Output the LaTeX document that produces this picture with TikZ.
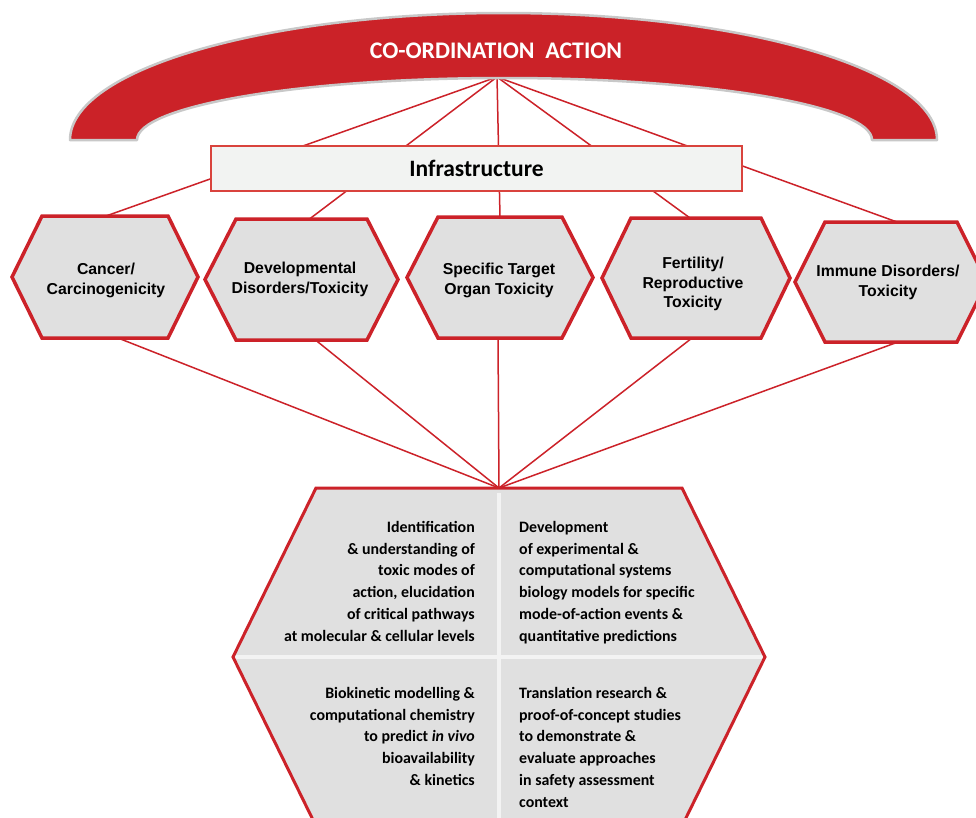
\documentclass[tikz,border=0pt]{standalone}
\usepackage{fontspec}
\setmainfont{Carlito}
\newfontfamily\hexfont{Liberation Sans}
\usetikzlibrary{calc}
\definecolor{archred}{HTML}{CB2228}
\definecolor{linered}{HTML}{CC2229}
\definecolor{hexred}{HTML}{CC2229}
\definecolor{hexfill}{HTML}{E0E0E0}
\definecolor{boxfill}{HTML}{F2F3F2}
\definecolor{boxline}{HTML}{D9433D}
\definecolor{archedge}{HTML}{C8C8C8}
\definecolor{divcol}{HTML}{F3F3F3}
\newcommand\hexdraw[3][hexline]{%
  \path[#1] ($(#2.north west)+(#3,0)$) -- ($(#2.north east)+(-#3,0)$) -- (#2.east)
    -- ($(#2.south east)+(-#3,0)$) -- ($(#2.south west)+(#3,0)$) -- (#2.west) -- cycle;}
\begin{document}
\begin{tikzpicture}[x=1pt,y=-1pt,
  conn/.style={draw=linered, line width=1.5pt},
  hexbox/.style={shape=rectangle, inner sep=0pt, outer sep=0pt},
  hexline/.style={fill=hexfill, draw=hexred, line width=3.5pt, line join=miter},
  hexlabel/.style={align=center, inner sep=0pt, font=\hexfont\bfseries\fontsize{15.8}{20}\selectfont},
  quad/.style={inner sep=0pt, font=\bfseries\fontsize{15.9}{21.8}\selectfont},
  divider/.style={draw=divcol, line width=4.5pt}]
\clip (0,0) rectangle (976,817);
\fill[white] (0,0) rectangle (976,817);

% invisible frames of the shapes
\node[hexbox, minimum width=186, minimum height=122] (h1) at (105,277) {};
\node[hexbox, minimum width=193, minimum height=121] (h2) at (301.5,279.5) {};
\node[hexbox, minimum width=186, minimum height=121] (h3) at (500,277.5) {};
\node[hexbox, minimum width=188, minimum height=120] (h4) at (696,278) {};
\node[hexbox, minimum width=192, minimum height=120] (h5) at (891,282) {};
\node[hexbox, minimum width=532, minimum height=338] (core) at (499,657) {};
\coordinate (hub) at (497,77);

% connectors
\draw[conn] (hub) -- ([xshift=1pt]h1.north);
\draw[conn] (hub) -- ([xshift=8pt]h2.north);
\draw[conn] (hub) -- (h3.north);
\draw[conn] (hub) -- ([xshift=-6pt]h4.north);
\draw[conn] (hub) -- ([xshift=6pt]h5.north);
\draw[conn] ([xshift=13pt]h1.south) -- (core.north);
\draw[conn] ([xshift=14pt]h2.south) -- (core.north);
\draw[conn] ([xshift=-2pt]h3.south) -- (core.north);
\draw[conn] ([xshift=-4pt]h4.south) -- (core.north);
\draw[conn] ([xshift=7pt]h5.south) -- (core.north);

% co-ordination arch
\path[fill=archred, draw=archedge, line width=2.5pt, line join=round]
  (70,140) arc[start angle=180, end angle=360, x radius=433.5, y radius=127]
  -- (872,140) arc[start angle=360, end angle=180, x radius=367.5, y radius=62] -- cycle;
\node[text=white, font=\bfseries\fontsize{23.8}{28}\selectfont] (coord) at (496,51) {CO-ORDINATION\ \ ACTION};

% infrastructure
\node[draw=boxline, fill=boxfill, line width=2pt, minimum width=531, minimum height=45, inner sep=0pt,
  font=\bfseries\fontsize{23.5}{27}\selectfont] (infra) at (476.5,168.5) {Infrastructure};

% hexagons
\hexdraw{h1}{30}
\hexdraw{h2}{31}
\hexdraw{h3}{31}
\hexdraw{h4}{29}
\hexdraw{h5}{30}
\node[hexlabel] (l1) at (106,280) {Cancer/\\Carcinogenicity};
\node[hexlabel] (l2) at (300,279.5) {Developmental\\Disorders/Toxicity};
\node[hexlabel] (l3) at (499,280) {Specific Target\\Organ Toxicity};
\node[hexlabel, font=\hexfont\bfseries\fontsize{15.8}{19.5}\selectfont] (l4) at (693,284) {Fertility/\\Reproductive\\Toxicity};
\node[hexlabel] (l5) at (888,282) {Immune Disorders/\\Toxicity};

% core hexagon
\hexdraw[fill=hexfill]{core}{83}
\draw[divider] ([yshift=-5pt]core.north) -- (core.south);
\draw[divider] (core.west) -- (core.east);
\hexdraw[draw=hexred, line width=3pt, line join=miter]{core}{83}

\node[quad, align=right, anchor=north east] (q1) at (475,521) {Identification\\
  \& understanding of\\ toxic modes of\\ action, elucidation\\ of critical pathways\\ at molecular \& cellular levels};
\node[quad, align=left, anchor=north west] (q2) at (519,521) {Development\\
  of experimental \&\\ computational systems\\ biology models for specific\\ mode-of-action events \&\\ quantitative predictions};
\node[quad, align=right, anchor=north east] (q3) at (475,687) {Biokinetic modelling \&\\
  computational chemistry\\ to predict \textit{in vivo}\\ bioavailability\\ \& kinetics};
\node[quad, align=left, anchor=north west] (q4) at (519,687) {Translation research \&\\
  proof-of-concept studies\\ to demonstrate \&\\ evaluate approaches\\ in safety assessment\\ context};
\end{tikzpicture}
\end{document}
